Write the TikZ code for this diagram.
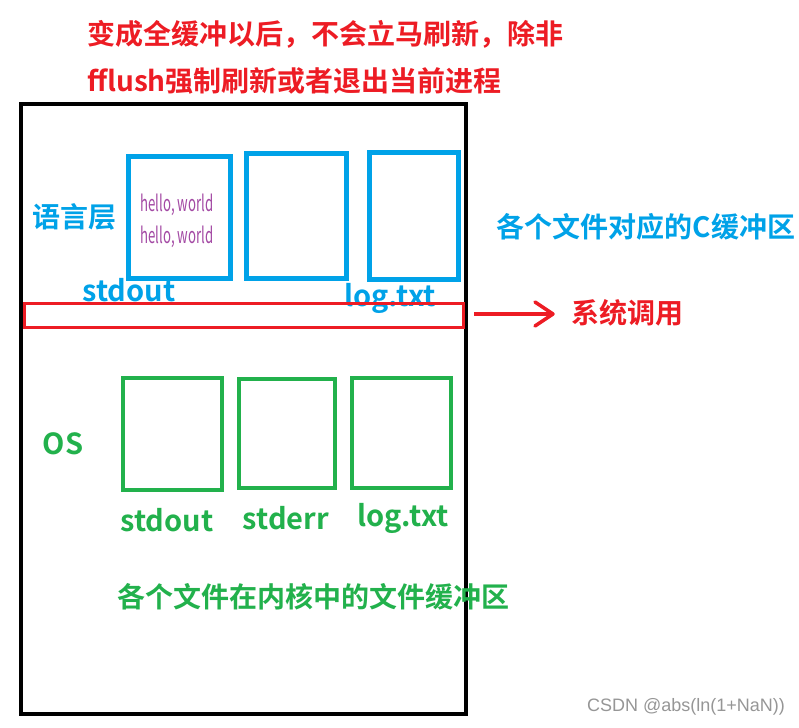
\documentclass[tikz,border=0pt]{standalone}
\usepackage{fontspec}
\setmainfont{Noto Sans CJK SC}
\newfontfamily\cjkb{Noto Sans CJK SC Bold}
\newfontfamily\arialf{Liberation Sans}
\definecolor{pred}{RGB}{237,28,36}
\definecolor{pblue}{RGB}{0,162,232}
\definecolor{pgreen}{RGB}{34,177,76}
\definecolor{ppurple}{RGB}{163,73,164}
\definecolor{wgray}{RGB}{150,150,150}
\begin{document}
\begin{tikzpicture}[x=1pt,y=-1pt,
  lbl/.style={inner sep=0pt,font=\cjkb\fontsize{28}{30}\selectfont},
  lat/.style={inner sep=0pt,font=\cjkb\fontsize{29}{30}\selectfont},
  bluebox/.style={draw=pblue,line width=5pt},
  greenbox/.style={draw=pgreen,line width=4pt},
  hw/.style={inner sep=0pt,text=ppurple,font=\fontsize{22}{24}\selectfont}]
\useasboundingbox (0,0) rectangle (799,727);
\fill[white] (0,0) rectangle (799,727);
% title
\node[lbl,text=pred,anchor=west] (t1) at (87,34) {变成全缓冲以后，不会立马刷新，除非};
\node[lbl,text=pred,anchor=west] (t2) at (87,81) {fflush强制刷新或者退出当前进程};
% outer frame
\draw[line width=4pt] (21,104) rectangle (466,714);
% blue boxes
\draw[bluebox] (128,157) rectangle (230,278);
\draw[bluebox] (246,154) rectangle (346,278);
\draw[bluebox] (369,153) rectangle (458,279);
\node[hw] (h1) at (177,205) {\scalebox{0.6}[1]{hello, world}};
\node[hw] (h2) at (177,237) {\scalebox{0.6}[1]{hello, world}};
\node[lbl,text=pblue] (ylc) at (74,217) {语言层};
\node[lat,text=pblue] (bso) at (129,290) {stdout};
\node[lat,text=pblue] (blog) at (390,298) {log.txt};
\node[lbl,text=pblue] (cbuf) at (646,227) {各个文件对应的C缓冲区};
% red syscall band
\draw[draw=pred,line width=3pt] (24,303) rectangle (463,327);
\coordinate (arrS) at (474,314);
\coordinate (arrE) at (553,314);
\draw[draw=pred,line width=3.5pt] (arrS) -- (arrE);
\draw[draw=pred,line width=3.5pt,line cap=round,line join=round] (535,302) -- (553,314) -- (535,326);
\node[lbl,text=pred] (sys) at (627,313) {系统调用};
% green boxes
\draw[greenbox] (123,378) rectangle (222,490);
\draw[greenbox] (239,379) rectangle (335,488);
\draw[greenbox] (352,378) rectangle (451,488);
\node[lat,text=pgreen] (os) at (63,444) {OS};
\node[lat,text=pgreen] (gso) at (167,520) {stdout};
\node[lat,text=pgreen] (gse) at (286,518) {stderr};
\node[lat,text=pgreen] (glog) at (403,518) {log.txt};
\node[lbl,text=pgreen] (kbuf) at (313,597) {各个文件在内核中的文件缓冲区};
% watermark
\node[inner sep=0pt,text=wgray,font=\arialf\fontsize{18}{20}\selectfont] (wm) at (686,707) {CSDN @abs(ln(1+NaN))};
\end{tikzpicture}
\end{document}
